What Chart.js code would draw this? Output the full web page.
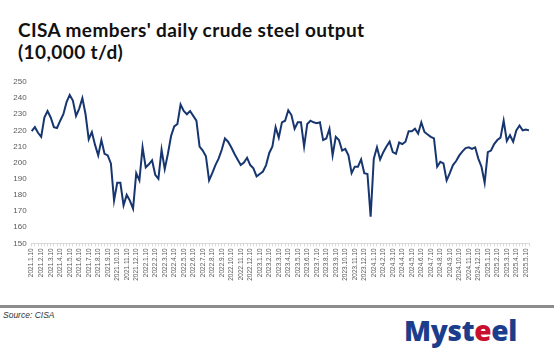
<!DOCTYPE html>
<html>
<head>
<meta charset="utf-8">
<script src="https://cdn.jsdelivr.net/npm/chart.js@4.4.1/dist/chart.umd.min.js"></script>
<style>
  body { margin: 0; width: 554px; height: 354px; background: #fff; position: relative; overflow: hidden; }
  #title { position: absolute; left: 18px; top: 19px; font-family: Lato, 'Open Sans', sans-serif; font-weight: 700; font-size: 19px; letter-spacing: 0.4px; line-height: 22px; color: #111; }
  #chartBox { position: absolute; left: 0; top: 70px; width: 554px; height: 230px; }
  #rule { position: absolute; left: 0; top: 305px; width: 554px; height: 3px; background: #8c8c8c; }
  #source { position: absolute; left: 3px; top: 310px; font-family: 'Liberation Sans', Arial, sans-serif; font-style: italic; font-size: 8.5px; color: #333; }
  #logo { position: absolute; left: 404px; top: 311px; font-family: 'Open Sans', sans-serif; font-weight: 800; font-size: 28px; color: #1b3d8c; letter-spacing: -0.3px; }
  #logo .r { color: #c8102e; }
</style>
</head>
<body>
<div id="title">CISA members' daily crude steel output<br>(10,000 t/d)</div>
<div id="chartBox"><canvas id="steelChart" width="554" height="230"></canvas></div>
<div id="rule"></div>
<div id="source">Source: CISA</div>
<div id="logo">Myst<span class="r">e</span>el</div>
<script>
const steelCanvas = document.getElementById('steelChart');

// dekads from 2021.1.10 to 2025.5.20, labels shown only on the .10 of each month
const years = [2021, 2022, 2023, 2024, 2025];
const dekadDays = ['10', '20', 'end'];

// daily crude steel output, 10,000 t/d, one value per dekad
const output = [
  219.5, 222, 218.5, 216, 228, 232, 228, 222, 221.5, 226,
  230, 237.5, 242, 238.5, 229, 233.5, 240, 230, 214.5, 219,
  211, 204.5, 214, 205.5, 204.5, 199.5, 176.5, 187.5, 187.5, 173.5,
  180, 176.5, 171.5, 193.5, 189, 209.5, 197, 199, 201.5, 192.5,
  190, 208, 196, 205.5, 216.5, 222.5, 224, 236, 232, 230,
  232, 229, 226, 210, 207.5, 204, 189, 193.5, 198.5, 202.5,
  208, 215, 213, 209.5, 205.5, 202, 198.5, 200, 203, 198.5,
  196.5, 191.5, 193, 194.5, 198.5, 206, 210, 222, 215.5, 225,
  226, 232.5, 229.5, 221, 225, 225, 210, 224, 226, 225,
  224.5, 225, 214, 215, 221, 204.5, 216, 214, 207.5, 208.5,
  204.5, 193.5, 197.5, 197.5, 202, 193.5, 193, 166.5, 202.5, 209.5,
  202, 206.5, 210, 213, 206.5, 205.5, 212.5, 211.5, 213, 219.5,
  219.5, 221, 218, 225, 219, 217.5, 216, 215, 197.5, 200.5,
  199.5, 189, 193.5, 198.5, 201, 204.5, 207, 209, 209.5, 208.5,
  209.5, 202.5, 197.5, 187.5, 206.5, 207.5, 211.5, 214, 215.5, 226,
  213.5, 217, 213, 220, 223, 220, 220.5, 220
];

const yTicks = [150, 160, 170, 180, 190, 200, 210, 220, 230, 240, 250];

function lastDay(y, m) {
  return new Date(y, m, 0).getDate();
}

const labels = [];
years.forEach(y => {
  for (let m = 1; m <= 12; m++) {
    dekadDays.forEach(d => {
      if (labels.length < output.length) {
        labels.push(`${y}.${m}.${d === 'end' ? lastDay(y, m) : d}`);
      }
    });
  }
});

const axisGrey = '#d9d9d9';
const textGrey = '#595959';

new Chart(steelCanvas, {
  type: 'line',
  data: {
    labels: labels,
    datasets: [{
      label: 'Daily crude steel output',
      data: output,
      borderColor: '#173670',
      borderWidth: 2,
      pointRadius: 0,
      tension: 0,
      fill: false
    }]
  },
  options: {
    responsive: false,
    animation: false,
    layout: { padding: { top: 12, right: 25, left: 0, bottom: 0 } },
    plugins: {
      legend: { display: false },
      tooltip: { enabled: false }
    },
    scales: {
      x: {
        type: 'category',
        offset: false,
        border: { display: true, color: axisGrey, width: 1 },
        grid: { display: true, drawOnChartArea: false, drawTicks: true, tickLength: 3, color: axisGrey },
        ticks: {
          autoSkip: false,
          minRotation: 90,
          maxRotation: 90,
          padding: 2,
          color: textGrey,
          font: { family: 'Liberation Sans', size: 6.5 },
          callback: function (val, idx) {
            return idx % 3 === 0 ? this.getLabelForValue(val) : '';
          }
        },
        afterFit: scale => { scale.height = 56.7; }
      },
      y: {
        min: 150,
        max: 250,
        afterBuildTicks: scale => { scale.ticks = yTicks.map(v => ({ value: v })); },
        border: { display: false },
        grid: { display: false, drawTicks: false },
        ticks: {
          padding: 5,
          color: textGrey,
          font: { family: 'Liberation Sans', size: 8 }
        },
        afterFit: scale => { scale.width = 31.7; }
      }
    }
  }
});
</script>
</body>
</html>
